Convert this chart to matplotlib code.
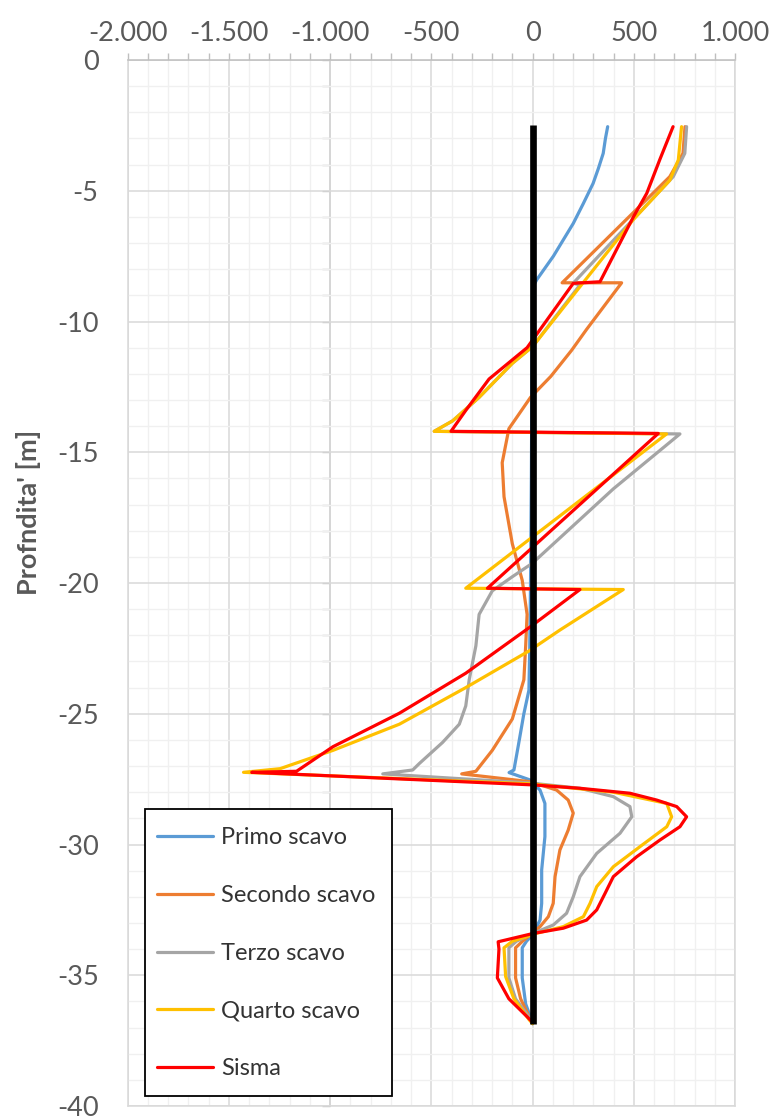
import matplotlib
matplotlib.use("Agg")
import matplotlib.pyplot as plt
from matplotlib.patches import Rectangle
from matplotlib.ticker import MultipleLocator, FuncFormatter

plt.rcParams["font.family"] = ["Lato", "DejaVu Sans"]
plt.rcParams["axes.unicode_minus"] = False

# Bending moment profiles along the wall (value, depth in m)
primo_val = [371, 360, 349, 325, 299, 250, 201, 103, 20, 0, -3, -6, -10, -14, -18, -43, -70,
             -92, -116, -13, 37, 61, 61, 45, 45, 37, 12, 0, -30, -51, -51, -34, -10, 0]
primo_depth = [-2.55, -3.0, -3.57, -4.15, -4.72, -5.5, -6.25, -7.5, -8.41, -8.7, -12, -16, -20,
               -22.5, -24.1, -25.0, -26.2, -27.15, -27.25, -27.53, -27.92, -28.43, -29.7,
               -30.97, -32.25, -32.89, -33.27, -33.45, -33.7, -33.95, -35.1, -36.1, -36.6,
               -36.85]

secondo_val = [753, 743, 678, 146, 440, 267, 193, 90, -10, -117, -150, -141, -100, -51, -27,
               -34, -43, -100, -199, -280, -350, -10, 119, 176, 201, 176, 135, 111, 102, 78,
               37, 5, -50, -84, -84, -59, -10, 0]
secondo_depth = [-2.55, -3.57, -4.46, -8.52, -8.52, -10.3, -11.1, -12.1, -12.9, -14.1, -15.4,
                 -16.7, -18.5, -19.9, -21.2, -22.4, -23.7, -25.2, -26.4, -27.2, -27.3, -27.6,
                 -27.92, -28.3, -28.8, -29.45, -30.21, -31.23, -32.25, -32.76, -33.14, -33.35,
                 -33.7, -33.95, -35.1, -35.9, -36.7, -36.85]

terzo_val = [761, 752, 695, 200, 234, 0, -100, -264, -395, -486, 728, 399, -2, -100, -199, -264,
             -280, -313, -330, -362, -445, -559, -592, -740, -10, 234, 399, 481, 490, 432, 317,
             234, 201, 168, 102, 18, -80, -117, -117, -84, -17, 0]
terzo_depth = [-2.55, -3.57, -4.46, -8.54, -8.6, -10.96, -11.6, -12.9, -13.8, -14.2, -14.3,
               -16.4, -19.25, -19.76, -20.3, -21.2, -22.4, -23.7, -24.7, -25.4, -26.1, -26.9,
               -27.15, -27.3, -27.65, -27.85, -28.17, -28.55, -28.94, -29.57, -30.34, -31.23,
               -32.0, -32.63, -33.08, -33.35, -33.7, -33.95, -35.1, -35.9, -36.6, -36.85]

quarto_val = [736, 720, 678, 498, 234, 0, -100, -264, -395, -486, 662, -330, 448, 135, -18,
              -330, -658, -986, -1247, -1428, -10, 399, 663, 687, 663, 531, 399, 317, 284, 251,
              152, 18, -100, -141, -133, -92, -17, 0]
quarto_depth = [-2.55, -3.82, -4.6, -6.1, -8.67, -10.96, -11.6, -12.9, -13.8, -14.2, -14.3,
                -20.2, -20.25, -21.8, -22.6, -24.0, -25.4, -26.4, -27.1, -27.24, -27.68, -28.0,
                -28.43, -28.94, -29.32, -30.08, -30.85, -31.61, -32.25, -32.76, -33.14, -33.4,
                -33.7, -33.95, -35.05, -35.9, -36.7, -36.85]

sisma_val = [694, 629, 564, 498, 333, 201, -27, -215, -330, -403, 621, -223, 234, -10, -330,
             -658, -986, -1166, -1387, 0, 234, 481, 613, 712, 761, 728, 629, 514, 399, 358,
             317, 267, 152, 4, -170, -166, -174, -117, -25, 0]
sisma_depth = [-2.55, -3.8, -5.1, -6.0, -8.48, -8.54, -11.0, -12.2, -13.4, -14.2, -14.28,
               -20.2, -20.25, -21.67, -23.45, -24.98, -26.26, -27.2, -27.24, -27.72, -27.85,
               -28.04, -28.3, -28.55, -28.94, -29.32, -29.83, -30.47, -31.23, -31.87, -32.5,
               -32.89, -33.2, -33.4, -33.72, -34.0, -35.1, -35.9, -36.6, -36.8]

# Wall axis
wall_val = [0, 0]
wall_depth = [-2.5, -36.85]

series = [
    ("Primo scavo", primo_val, primo_depth, "#5B9BD5"),
    ("Secondo scavo", secondo_val, secondo_depth, "#ED7D31"),
    ("Terzo scavo", terzo_val, terzo_depth, "#A5A5A5"),
    ("Quarto scavo", quarto_val, quarto_depth, "#FFC000"),
    ("Sisma", sisma_val, sisma_depth, "#FF0000"),
]

W, H = 772, 1119
fig = plt.figure(figsize=(W / 100, H / 100), dpi=100)
left, right, top, bottom = 127.7, 735.0, 60.0, 1106.0
ax = fig.add_axes([left / W, 1 - bottom / H, (right - left) / W, (bottom - top) / H])

for label, vals, depth, color in series:
    ax.plot(vals, depth, color=color, lw=2.3, label=label,
            solid_capstyle="round", solid_joinstyle="round")
ax.plot(wall_val, wall_depth, color="black", lw=4.8, solid_capstyle="butt")

ax.set_xlim(-2000, 1000)
ax.set_ylim(-40, 0)

ax.xaxis.set_major_locator(MultipleLocator(500))
ax.xaxis.set_minor_locator(MultipleLocator(100))
ax.yaxis.set_major_locator(MultipleLocator(5))
ax.yaxis.set_minor_locator(MultipleLocator(1))
ax.xaxis.set_major_formatter(FuncFormatter(lambda v, p: f"{v:,.0f}".replace(",", ".")))
ax.yaxis.set_major_formatter(FuncFormatter(lambda v, p: f"{v:.0f}"))

ax.set_axisbelow(True)
ax.grid(which="major", color="#D9D9D9", lw=1.1)
ax.grid(which="minor", color="#F0F0F0", lw=1.0)

ax.xaxis.tick_top()
ax.tick_params(axis="x", which="both", direction="out", length=5, width=1,
               color="#BFBFBF", labelsize=19.5, labelcolor="#595959", pad=5,
               top=True, bottom=False, labeltop=True, labelbottom=False)
ax.tick_params(axis="y", which="both", length=0, labelsize=19.5,
               labelcolor="#595959", pad=21)

for side in ("left", "right", "bottom"):
    ax.spines[side].set_color("#D9D9D9")
    ax.spines[side].set_linewidth(1.1)
ax.spines["top"].set_color("#BFBFBF")
ax.spines["top"].set_linewidth(1.1)

# Vertical value axis crossing at -1000
sec = ax.secondary_yaxis(1 / 3)
sec.yaxis.set_major_locator(MultipleLocator(1))
sec.tick_params(axis="y", direction="out", length=6, width=1, color="#BFBFBF",
                labelleft=False, labelright=False)
for sp in sec.spines.values():
    sp.set_color("#BFBFBF")
    sp.set_linewidth(1.1)

fig.text(29 / W, 1 - 512 / H, "Profndita' [m]", rotation=90, ha="center", va="center",
         fontsize=19.5, fontweight="bold", color="#595959")

# Legend box and entries
box_l, box_t, box_r, box_b = 145, 809, 392, 1096
ax.add_patch(Rectangle((box_l / W, 1 - box_b / H), (box_r - box_l) / W, (box_b - box_t) / H,
                       transform=fig.transFigure, facecolor="white", edgecolor="black",
                       lw=1.3, zorder=4.9, clip_on=False))
leg = ax.legend(loc="upper left", bbox_to_anchor=(157 / W, 1 - 827.5 / H),
                bbox_transform=fig.transFigure, fontsize=17, frameon=False,
                borderaxespad=0, borderpad=0, handlelength=2.37, handletextpad=0.34,
                labelspacing=1.555)
leg.set_zorder(5)
for t in leg.get_texts():
    t.set_color("#333333")

fig.savefig("out.png", dpi=100)
